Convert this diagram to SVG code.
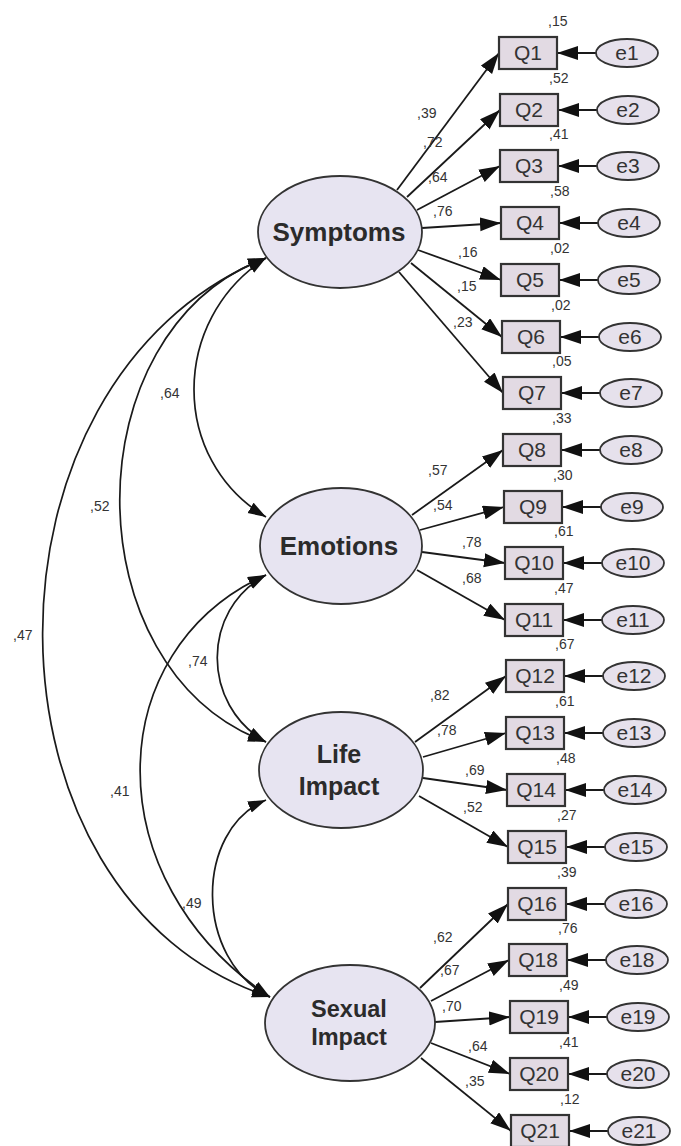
<svg xmlns="http://www.w3.org/2000/svg" width="681" height="1146" viewBox="0 0 681 1146">
<style>
.lat{fill:#E7E4F1;stroke:#333;stroke-width:1.8}
.box{fill:#E2DAE3;stroke:#333;stroke-width:2.2}
.err{fill:#E6E1EC;stroke:#333;stroke-width:1.8}
.lt{font-family:"Liberation Sans",Arial,sans-serif;font-weight:bold;fill:#2b2b2b;text-anchor:middle}
.ot{font-family:"Liberation Sans",Arial,sans-serif;font-size:21px;fill:#333;text-anchor:middle}
.num{font-family:"Liberation Sans",Arial,sans-serif;font-size:14px;fill:#333}
.ln{stroke:#1a1a1a;stroke-width:1.8;fill:none;marker-end:url(#ah)}
.cv{stroke:#1a1a1a;stroke-width:1.7;fill:none;marker-start:url(#ch);marker-end:url(#ch)}
</style>
<defs>
<marker id="ah" markerUnits="userSpaceOnUse" markerWidth="24" markerHeight="16" refX="21" refY="7" orient="auto"><path d="M0,0 L21,7 L0,14 z" fill="#111"/></marker>
<marker id="ch" markerUnits="userSpaceOnUse" markerWidth="20" markerHeight="14" refX="18" refY="6" orient="auto-start-reverse"><path d="M0,0 L18,6 L0,12 z" fill="#111"/></marker>
</defs>
<rect width="681" height="1146" fill="#fff"/>

<g id="connectors">
<path class="cv" d="M266,258 C170,320 170,460 266,517"/>
<path class="cv" d="M266,258 C71,330 71,670 266,742"/>
<path class="cv" d="M266,258 C-35,380 -30,900 270,997"/>
<path class="cv" d="M266,575 C201,610 201,705 266,742"/>
<path class="cv" d="M266,575 C100,650 95,880 270,997"/>
<path class="cv" d="M266,800 C194,830 194,960 270,997"/>
<line class="ln" x1="397" y1="190" x2="499" y2="53"/>
<line class="ln" x1="407" y1="197" x2="500" y2="110"/>
<line class="ln" x1="417" y1="210" x2="500" y2="166"/>
<line class="ln" x1="422" y1="228" x2="501" y2="223"/>
<line class="ln" x1="418" y1="250" x2="501" y2="280"/>
<line class="ln" x1="411" y1="263" x2="502" y2="337"/>
<line class="ln" x1="399" y1="272" x2="503" y2="393"/>
<line class="ln" x1="412" y1="515" x2="503" y2="450"/>
<line class="ln" x1="420" y1="530" x2="504" y2="507"/>
<line class="ln" x1="422" y1="552" x2="505" y2="563"/>
<line class="ln" x1="417" y1="570" x2="505" y2="620"/>
<line class="ln" x1="415" y1="742" x2="506" y2="676"/>
<line class="ln" x1="423" y1="757" x2="506" y2="733"/>
<line class="ln" x1="423" y1="778" x2="507" y2="790"/>
<line class="ln" x1="419" y1="796" x2="508" y2="847"/>
<line class="ln" x1="420" y1="988" x2="508" y2="904"/>
<line class="ln" x1="431" y1="1001" x2="509" y2="960"/>
<line class="ln" x1="435" y1="1022" x2="510" y2="1017"/>
<line class="ln" x1="431" y1="1043" x2="510" y2="1074"/>
<line class="ln" x1="421" y1="1058" x2="511" y2="1131"/>
<line class="ln" x1="596" y1="53" x2="557" y2="53"/>
<line class="ln" x1="597" y1="110" x2="558" y2="110"/>
<line class="ln" x1="597" y1="166" x2="558" y2="166"/>
<line class="ln" x1="598" y1="223" x2="559" y2="223"/>
<line class="ln" x1="598" y1="280" x2="559" y2="280"/>
<line class="ln" x1="599" y1="337" x2="560" y2="337"/>
<line class="ln" x1="600" y1="393" x2="561" y2="393"/>
<line class="ln" x1="600" y1="450" x2="561" y2="450"/>
<line class="ln" x1="601" y1="507" x2="562" y2="507"/>
<line class="ln" x1="602" y1="563" x2="563" y2="563"/>
<line class="ln" x1="602" y1="620" x2="563" y2="620"/>
<line class="ln" x1="603" y1="676" x2="564" y2="676"/>
<line class="ln" x1="603" y1="733" x2="564" y2="733"/>
<line class="ln" x1="604" y1="790" x2="565" y2="790"/>
<line class="ln" x1="605" y1="847" x2="566" y2="847"/>
<line class="ln" x1="605" y1="904" x2="566" y2="904"/>
<line class="ln" x1="606" y1="960" x2="567" y2="960"/>
<line class="ln" x1="607" y1="1017" x2="568" y2="1017"/>
<line class="ln" x1="607" y1="1074" x2="568" y2="1074"/>
<line class="ln" x1="608" y1="1131" x2="569" y2="1131"/>
</g>

<g id="labels" class="num">
<text x="160" y="398">,64</text>
<text x="90" y="511">,52</text>
<text x="13" y="640">,47</text>
<text x="188" y="666">,74</text>
<text x="110" y="796">,41</text>
<text x="182" y="908">,49</text>
<text x="417" y="118">,39</text>
<text x="423" y="147">,72</text>
<text x="428" y="182">,64</text>
<text x="433" y="216">,76</text>
<text x="458" y="257">,16</text>
<text x="457" y="291">,15</text>
<text x="453" y="327">,23</text>
<text x="428" y="475">,57</text>
<text x="433" y="510">,54</text>
<text x="462" y="547">,78</text>
<text x="462" y="583">,68</text>
<text x="430" y="700">,82</text>
<text x="437" y="735">,78</text>
<text x="465" y="775">,69</text>
<text x="463" y="812">,52</text>
<text x="433" y="942">,62</text>
<text x="440" y="975">,67</text>
<text x="442" y="1011">,70</text>
<text x="468" y="1051">,64</text>
<text x="465" y="1086">,35</text>
</g>

<g id="Symptoms"><ellipse class="lat" cx="340" cy="232" rx="82" ry="56"/><text class="lt" x="339" y="241" font-size="26">Symptoms</text></g>
<g id="Emotions"><ellipse class="lat" cx="341" cy="546" rx="81" ry="58"/><text class="lt" x="339" y="555" font-size="26">Emotions</text></g>
<g id="LifeImpact"><ellipse class="lat" cx="341" cy="770" rx="82" ry="58"/><text class="lt" x="339" y="763" font-size="25">Life</text><text class="lt" x="339" y="795" font-size="25">Impact</text></g>
<g id="SexualImpact"><ellipse class="lat" cx="350" cy="1023" rx="85" ry="58"/><text class="lt" x="349" y="1017" font-size="23.5">Sexual</text><text class="lt" x="349" y="1045" font-size="23.5">Impact</text></g>

<g id="Q1"><rect class="box" x="499" y="37" width="58" height="32"/><text class="ot" x="528" y="60">Q1</text><text class="num" x="548" y="26">,15</text></g>
<g id="Q2"><rect class="box" x="500" y="94" width="58" height="32"/><text class="ot" x="529" y="117">Q2</text><text class="num" x="549" y="83">,52</text></g>
<g id="Q3"><rect class="box" x="500" y="150" width="58" height="32"/><text class="ot" x="529" y="173">Q3</text><text class="num" x="549" y="139">,41</text></g>
<g id="Q4"><rect class="box" x="501" y="207" width="58" height="32"/><text class="ot" x="530" y="230">Q4</text><text class="num" x="550" y="196">,58</text></g>
<g id="Q5"><rect class="box" x="501" y="264" width="58" height="32"/><text class="ot" x="530" y="287">Q5</text><text class="num" x="550" y="253">,02</text></g>
<g id="Q6"><rect class="box" x="502" y="321" width="58" height="32"/><text class="ot" x="531" y="344">Q6</text><text class="num" x="551" y="310">,02</text></g>
<g id="Q7"><rect class="box" x="503" y="377" width="58" height="32"/><text class="ot" x="532" y="400">Q7</text><text class="num" x="552" y="366">,05</text></g>
<g id="Q8"><rect class="box" x="503" y="434" width="58" height="32"/><text class="ot" x="532" y="457">Q8</text><text class="num" x="552" y="423">,33</text></g>
<g id="Q9"><rect class="box" x="504" y="491" width="58" height="32"/><text class="ot" x="533" y="514">Q9</text><text class="num" x="553" y="480">,30</text></g>
<g id="Q10"><rect class="box" x="505" y="547" width="58" height="32"/><text class="ot" x="534" y="570">Q10</text><text class="num" x="554" y="536">,61</text></g>
<g id="Q11"><rect class="box" x="505" y="604" width="58" height="32"/><text class="ot" x="534" y="627">Q11</text><text class="num" x="554" y="593">,47</text></g>
<g id="Q12"><rect class="box" x="506" y="660" width="58" height="32"/><text class="ot" x="535" y="683">Q12</text><text class="num" x="555" y="649">,67</text></g>
<g id="Q13"><rect class="box" x="506" y="717" width="58" height="32"/><text class="ot" x="535" y="740">Q13</text><text class="num" x="555" y="706">,61</text></g>
<g id="Q14"><rect class="box" x="507" y="774" width="58" height="32"/><text class="ot" x="536" y="797">Q14</text><text class="num" x="556" y="763">,48</text></g>
<g id="Q15"><rect class="box" x="508" y="831" width="58" height="32"/><text class="ot" x="537" y="854">Q15</text><text class="num" x="557" y="820">,27</text></g>
<g id="Q16"><rect class="box" x="508" y="888" width="58" height="32"/><text class="ot" x="537" y="911">Q16</text><text class="num" x="557" y="877">,39</text></g>
<g id="Q18"><rect class="box" x="509" y="944" width="58" height="32"/><text class="ot" x="538" y="967">Q18</text><text class="num" x="558" y="933">,76</text></g>
<g id="Q19"><rect class="box" x="510" y="1001" width="58" height="32"/><text class="ot" x="539" y="1024">Q19</text><text class="num" x="559" y="990">,49</text></g>
<g id="Q20"><rect class="box" x="510" y="1058" width="58" height="32"/><text class="ot" x="539" y="1081">Q20</text><text class="num" x="559" y="1047">,41</text></g>
<g id="Q21"><rect class="box" x="511" y="1115" width="58" height="32"/><text class="ot" x="540" y="1138">Q21</text><text class="num" x="560" y="1104">,12</text></g>

<g id="e1"><ellipse class="err" cx="627" cy="53" rx="31" ry="14"/><text class="ot" x="627" y="60">e1</text></g>
<g id="e2"><ellipse class="err" cx="628" cy="110" rx="31" ry="14"/><text class="ot" x="628" y="117">e2</text></g>
<g id="e3"><ellipse class="err" cx="628" cy="166" rx="31" ry="14"/><text class="ot" x="628" y="173">e3</text></g>
<g id="e4"><ellipse class="err" cx="629" cy="223" rx="31" ry="14"/><text class="ot" x="629" y="230">e4</text></g>
<g id="e5"><ellipse class="err" cx="629" cy="280" rx="31" ry="14"/><text class="ot" x="629" y="287">e5</text></g>
<g id="e6"><ellipse class="err" cx="630" cy="337" rx="31" ry="14"/><text class="ot" x="630" y="344">e6</text></g>
<g id="e7"><ellipse class="err" cx="631" cy="393" rx="31" ry="14"/><text class="ot" x="631" y="400">e7</text></g>
<g id="e8"><ellipse class="err" cx="631" cy="450" rx="31" ry="14"/><text class="ot" x="631" y="457">e8</text></g>
<g id="e9"><ellipse class="err" cx="632" cy="507" rx="31" ry="14"/><text class="ot" x="632" y="514">e9</text></g>
<g id="e10"><ellipse class="err" cx="633" cy="563" rx="31" ry="14"/><text class="ot" x="633" y="570">e10</text></g>
<g id="e11"><ellipse class="err" cx="633" cy="620" rx="31" ry="14"/><text class="ot" x="633" y="627">e11</text></g>
<g id="e12"><ellipse class="err" cx="634" cy="676" rx="31" ry="14"/><text class="ot" x="634" y="683">e12</text></g>
<g id="e13"><ellipse class="err" cx="634" cy="733" rx="31" ry="14"/><text class="ot" x="634" y="740">e13</text></g>
<g id="e14"><ellipse class="err" cx="635" cy="790" rx="31" ry="14"/><text class="ot" x="635" y="797">e14</text></g>
<g id="e15"><ellipse class="err" cx="636" cy="847" rx="31" ry="14"/><text class="ot" x="636" y="854">e15</text></g>
<g id="e16"><ellipse class="err" cx="636" cy="904" rx="31" ry="14"/><text class="ot" x="636" y="911">e16</text></g>
<g id="e18"><ellipse class="err" cx="637" cy="960" rx="31" ry="14"/><text class="ot" x="637" y="967">e18</text></g>
<g id="e19"><ellipse class="err" cx="638" cy="1017" rx="31" ry="14"/><text class="ot" x="638" y="1024">e19</text></g>
<g id="e20"><ellipse class="err" cx="638" cy="1074" rx="31" ry="14"/><text class="ot" x="638" y="1081">e20</text></g>
<g id="e21"><ellipse class="err" cx="639" cy="1131" rx="31" ry="14"/><text class="ot" x="639" y="1138">e21</text></g>
</svg>
